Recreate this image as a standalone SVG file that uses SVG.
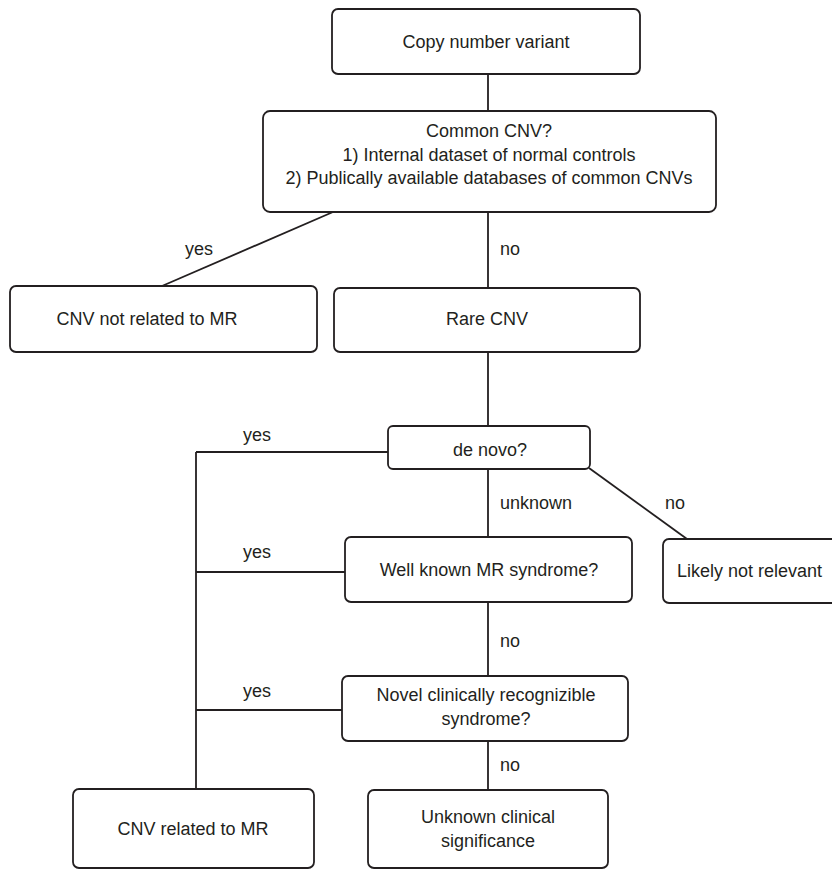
<svg xmlns="http://www.w3.org/2000/svg" width="832" height="870" viewBox="0 0 832 870">
<style>
.box{fill:#fff;stroke:#231f20;stroke-width:1.8}
.ln{fill:none;stroke:#231f20;stroke-width:1.8}
text{font-family:"Liberation Sans",Arial,sans-serif;font-size:18px;fill:#231f20}
.c{text-anchor:middle}
</style>
<rect width="832" height="870" fill="#fff"/>
<g id="connectors">
<line class="ln" x1="488" y1="74" x2="488" y2="111"/>
<line class="ln" x1="488" y1="212" x2="488" y2="288"/>
<line class="ln" x1="333" y1="212" x2="162" y2="286"/>
<line class="ln" x1="488" y1="352" x2="488" y2="426"/>
<line class="ln" x1="388" y1="452" x2="196" y2="452"/>
<line class="ln" x1="196" y1="452" x2="196" y2="789"/>
<line class="ln" x1="488" y1="469" x2="488" y2="537"/>
<line class="ln" x1="589" y1="468" x2="687" y2="539"/>
<line class="ln" x1="196" y1="572" x2="345" y2="572"/>
<line class="ln" x1="488" y1="602" x2="488" y2="676"/>
<line class="ln" x1="196" y1="710" x2="342" y2="710"/>
<line class="ln" x1="488" y1="741" x2="488" y2="790"/>
<text x="199" y="255" class="c">yes</text>
<text x="500" y="255">no</text>
<text x="257" y="441" class="c">yes</text>
<text x="500" y="509">unknown</text>
<text x="665" y="509">no</text>
<text x="257" y="558" class="c">yes</text>
<text x="500" y="647">no</text>
<text x="257" y="697" class="c">yes</text>
<text x="500" y="771">no</text>
</g>
<g id="n1"><rect class="box" x="332" y="9" width="308" height="65" rx="6"/><text x="486" y="48" class="c">Copy number variant</text></g>
<g id="n2"><rect class="box" x="263" y="111" width="453" height="101" rx="7"/>
<text x="489" y="137" class="c">Common CNV?</text>
<text x="489" y="160.5" class="c">1) Internal dataset of normal controls</text>
<text x="489" y="184" class="c">2) Publically available databases of common CNVs</text></g>
<g id="n3"><rect class="box" x="10" y="286" width="307" height="66" rx="6"/><text x="147" y="325" class="c">CNV not related to MR</text></g>
<g id="n4"><rect class="box" x="334" y="288" width="306" height="64" rx="6"/><text x="487" y="325" class="c">Rare CNV</text></g>
<g id="n5"><rect class="box" x="388" y="426" width="202" height="43" rx="5"/><text x="490" y="456" class="c">de novo?</text></g>
<g id="n6"><rect class="box" x="345" y="537" width="287" height="65" rx="6"/><text x="489" y="576" class="c">Well known MR syndrome?</text></g>
<g id="n7"><rect class="box" x="663" y="539" width="180" height="64" rx="6"/><text x="677" y="577">Likely not relevant</text></g>
<g id="n8"><rect class="box" x="342" y="676" width="286" height="65" rx="6"/>
<text x="486" y="701" class="c">Novel clinically recognizible</text>
<text x="486" y="725" class="c">syndrome?</text></g>
<g id="n9"><rect class="box" x="73" y="789" width="241" height="79" rx="6"/><text x="193" y="835" class="c">CNV related to MR</text></g>
<g id="n10"><rect class="box" x="368" y="790" width="240" height="78" rx="6"/>
<text x="488" y="823" class="c">Unknown clinical</text>
<text x="488" y="847" class="c">significance</text></g>
</svg>
